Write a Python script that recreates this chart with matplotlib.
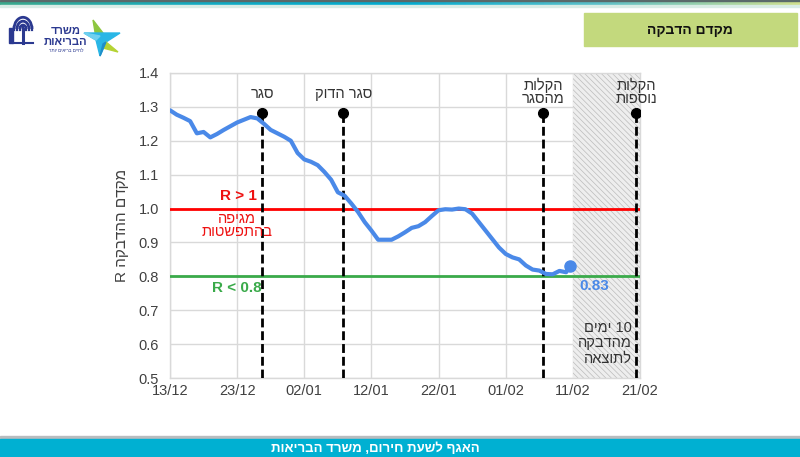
import numpy as np
import matplotlib
matplotlib.use("Agg")
import matplotlib.pyplot as plt
from matplotlib.patches import Rectangle, Polygon, Arc
from matplotlib.colors import LinearSegmentedColormap

plt.rcParams['font.family'] = ['Liberation Sans', 'DejaVu Sans']
plt.rcParams['hatch.linewidth'] = 0.5

# ---------------- data ----------------
# days since 13/12
days = [0, 1, 2, 3, 4, 5, 6, 7, 8, 9, 10, 11, 12, 13, 14, 15, 16, 17, 18, 19,
        20, 21, 22, 23, 24, 25, 26, 27, 28, 29, 30, 31, 32, 33, 34, 35, 36, 37, 38, 39,
        40, 41, 42, 43, 44, 45, 46, 47, 48, 49, 50, 51, 52, 53, 54, 55, 56, 57, 58, 59, 59.5]
r_values = [1.290, 1.277, 1.268, 1.258, 1.222, 1.226, 1.210, 1.220, 1.232, 1.243,
            1.254, 1.262, 1.270, 1.266, 1.250, 1.232, 1.222, 1.212, 1.200, 1.164,
            1.145, 1.138, 1.128, 1.108, 1.085, 1.048, 1.038, 1.015, 0.990, 0.960,
            0.935, 0.908, 0.908, 0.908, 0.918, 0.930, 0.943, 0.948, 0.960, 0.978,
            0.995, 0.998, 0.997, 1.000, 0.998, 0.985, 0.960, 0.935, 0.910, 0.885,
            0.866, 0.856, 0.850, 0.832, 0.820, 0.817, 0.807, 0.806, 0.816, 0.812, 0.830]
last_label = "0.83"

xtick_pos = [0, 10, 20, 30, 40, 50, 60, 70]
xtick_labels = ["13/12", "23/12", "02/01", "12/01", "22/01", "01/02", "11/02", "21/02"]
ytick_vals = [0.5, 0.6, 0.7, 0.8, 0.9, 1.0, 1.1, 1.2, 1.3, 1.4]

# events (Hebrew stored in visual order, since matplotlib draws left-to-right)
event_days = [13.7, 25.8, 55.6, 69.4]
event_labels = ["רגס", "קודה רגס", "תולקה\nרגסהמ", "תולקה\nתופסונ"]
event_marker_y = 1.283

shade_start, shade_end = 60, 70
upper_threshold = 1.0
lower_threshold = 0.8

# ---------------- figure ----------------
W, H = 800, 457
fig = plt.figure(figsize=(W / 100, H / 100), dpi=100)

# background overlay in pixel coordinates
bg = fig.add_axes([0, 0, 1, 1], zorder=0)
bg.set_xlim(0, W)
bg.set_ylim(H, 0)
bg.axis('off')

# top gradient strip
cmap = LinearSegmentedColormap.from_list("strip", ["#3aa98c", "#13abc2", "#00abd0", "#5cc0c8", "#cfe08e"])
grad = np.linspace(0, 1, 400).reshape(1, -1)
bg.imshow(grad, cmap=cmap, extent=[0, W, 5, 1], aspect='auto', zorder=1)
bg.add_patch(Rectangle((0, 0), W, 1.2, color="#5a6a6a", zorder=2))
bg.add_patch(Rectangle((0, 5), W, 1.5, color="#d9ece6", zorder=2))

# title box
bg.add_patch(Rectangle((584, 13), 213, 33, color="#c3d97d", zorder=1))
bg.text(690, 30, "הקבדה םדקמ", ha='center', va='center', fontsize=10,
        fontweight='bold', color='#111111')

# footer
bg.add_patch(Rectangle((0, 436), W, 3, color="#b8bcbf", zorder=1))
bg.add_patch(Rectangle((0, 439), W, 18, color="#00b0d2", zorder=1))
bg.text(375, 449, "תואירבה דרשמ ,םוריח תעשל ףגאה", ha='center', va='center',
        fontsize=9.5, fontweight='bold', color='white')

# logo: emblem
navy = "#2b3990"
bg.add_patch(Rectangle((9, 28), 4, 15, color=navy, zorder=3))
for r in [3, 6, 9]:
    bg.add_patch(Arc((23, 29), 2 * r, 2.6 * r, theta1=180, theta2=360, color=navy, lw=2.0, zorder=3))
for xx in [14, 17, 20, 23, 26, 29, 32]:
    bg.plot([xx, xx], [27, 30], color=navy, lw=1.6, zorder=3)
bg.plot([23, 23], [29, 43], color=navy, lw=2.2, zorder=3)
bg.plot([13, 33], [42.5, 42.5], color=navy, lw=1.5, zorder=3)
# logo: text
bg.text(66, 31, "דרשמ", ha='center', va='center', fontsize=8, fontweight='bold', color=navy)
bg.text(65, 42, "תואירבה", ha='center', va='center', fontsize=8, fontweight='bold', color=navy)
bg.text(66, 50.5, "רתוי םיאירב םייחל", ha='center', va='center', fontsize=3.3, color=navy)
# logo: star
bg.add_patch(Polygon([[93, 20], [103, 33], [96, 38]], color="#8dc63f", zorder=3))
bg.add_patch(Polygon([[84, 33], [120, 33], [106, 42], [100, 56], [96, 40]], color="#29b6e6", zorder=3))
bg.add_patch(Polygon([[84, 33], [100, 36], [96, 40]], color="#6fd0ef", zorder=4))
bg.add_patch(Polygon([[106, 42], [118, 52], [103, 48]], color="#b5d334", zorder=4))
bg.add_patch(Polygon([[100, 56], [103, 44], [106, 42]], color="#1f8fc9", zorder=4))

# ---------------- main axes ----------------
ax = fig.add_axes([170 / W, 1 - 378 / H, 470 / W, 305 / H], zorder=2)
ax.set_xlim(0, 70)
ax.set_ylim(0.5, 1.4)

grid_c = "#d9d9d9"
ax.set_xticks(xtick_pos)
ax.set_xticklabels(xtick_labels)
ax.set_yticks(ytick_vals)
ax.set_yticklabels([f"{v:.1f}" for v in ytick_vals])
ax.grid(True, color=grid_c, lw=1)
ax.set_axisbelow(True)
for s in ax.spines.values():
    s.set_color(grid_c)
    s.set_linewidth(1)
ax.tick_params(length=0, labelsize=10.5, colors="#404040", pad=4)
ax.tick_params(axis='y', pad=8)

# shaded period
ax.add_patch(Rectangle((shade_start, 0.5), shade_end - shade_start, 0.9,
                       facecolor="#eeeeee", edgecolor="#bcbcbc", hatch="\\\\\\\\\\\\",
                       lw=0, zorder=1))

# threshold lines
ax.axhline(upper_threshold, color="#ff0000", lw=2, zorder=3)
ax.axhline(lower_threshold, color="#3aaa4a", lw=2, zorder=3)

# event lines
for d, lab in zip(event_days, event_labels):
    ax.plot([d, d], [0.5, event_marker_y], color='black', lw=2,
            linestyle=(0, (3.2, 1.4)), zorder=4)
    ax.plot([d], [event_marker_y], 'o', color='black', ms=7, zorder=5)
    nlines = lab.count("\n") + 1
    ax.text(d, 1.338 if nlines == 1 else 1.345, lab, ha='center', va='center',
            fontsize=10.5, color='#333333', linespacing=0.95, zorder=6)

# R line
blue = "#4a89e8"
ax.plot(days, r_values, color=blue, lw=3, zorder=6, solid_capstyle='round')
ax.plot([days[-1]], [r_values[-1]], 'o', color=blue, ms=8, zorder=7)
ax.text(60.9, 0.772, last_label, color=blue, fontsize=11, fontweight='bold',
        ha='left', va='center', zorder=7)

# region labels
ax.text(13, 1.037, "R > 1", color="#ee1111", fontsize=11, fontweight='bold',
        ha='right', va='center', zorder=6)
ax.text(10, 0.95, "הפיגמ\nתוטשפתהב", color="#ee1111", fontsize=10.5,
        ha='center', va='center', linespacing=0.95, zorder=6)
ax.text(13.7, 0.766, "R < 0.8", color="#3aaa4a", fontsize=11, fontweight='bold',
        ha='right', va='center', zorder=6)
ax.text(68.8, 0.603, "םימי 10\nהקבדהמ\nהאצותל", color="#333333", fontsize=10.5,
        ha='right', va='center', linespacing=1.1, zorder=6)

# y label
fig.text(122 / W, 1 - 225 / H, "R הקבדהה םדקמ", rotation=90, ha='center', va='center',
         fontsize=11, color="#404040")

fig.savefig("out.png", dpi=100)
